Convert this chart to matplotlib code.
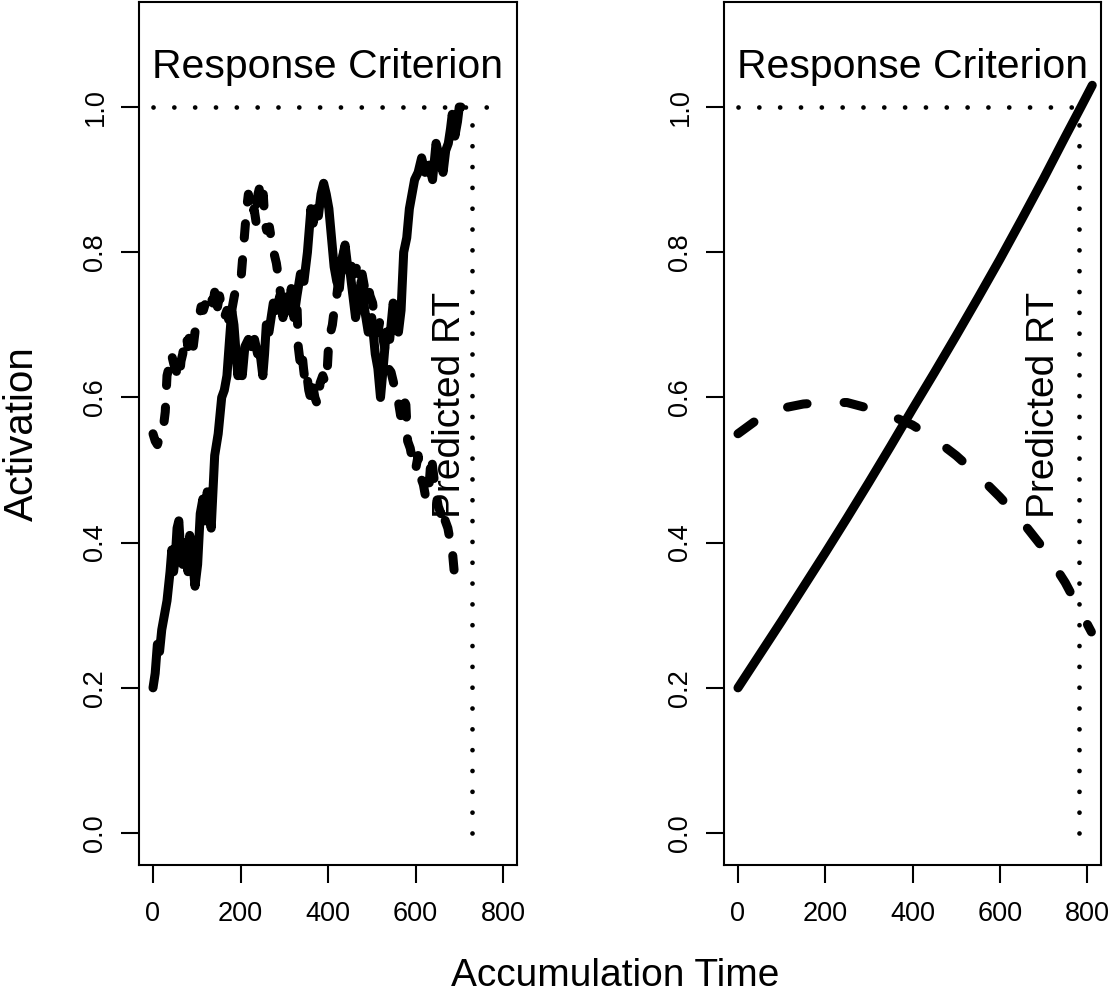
"""
Accumulator model: noisy vs. deterministic evidence accumulation
"""
import numpy as np
from matplotlib import pyplot as plt

plt.rcParams['font.family'] = ['Liberation Sans', 'DejaVu Sans']

# Left panel: noisy accumulators
walk_solid_t = [0, 5, 10, 15, 20, 26, 32, 39, 43, 47, 51, 55, 59, 63, 68, 75, 80, 84, 90,
                96, 102, 108, 114, 119, 124, 128, 133, 137, 141, 149, 157, 163, 169, 175,
                180, 185, 190, 194, 198, 204, 210, 218, 225, 232, 239, 245, 251, 255, 259,
                265, 270, 275, 282, 290, 297, 304, 310, 316, 322, 329, 337, 345, 353, 361,
                366, 372, 378, 384, 390, 396, 402, 408, 414, 420, 426, 432, 439, 445, 451,
                457, 463, 469, 476, 484, 492, 500, 508, 514, 520, 526, 533, 541, 549, 555,
                561, 567, 573, 580, 586, 592, 598, 606, 614, 622, 631, 639, 647, 655, 663,
                669, 675, 680, 684, 690, 696, 700, 704]
walk_solid_v = [0.20, 0.22, 0.26, 0.25, 0.28, 0.30, 0.32, 0.36, 0.39, 0.36, 0.38, 0.42, 0.43,
                0.39, 0.37, 0.40, 0.36, 0.41, 0.38, 0.34, 0.37, 0.44, 0.46, 0.43, 0.47, 0.44,
                0.42, 0.47, 0.52, 0.55, 0.60, 0.61, 0.63, 0.68, 0.72, 0.70, 0.66, 0.63, 0.65,
                0.63, 0.67, 0.68, 0.67, 0.68, 0.66, 0.66, 0.63, 0.66, 0.70, 0.69, 0.71, 0.73,
                0.72, 0.74, 0.71, 0.73, 0.72, 0.75, 0.71, 0.74, 0.77, 0.76, 0.80, 0.86, 0.84,
                0.86, 0.85, 0.88, 0.895, 0.88, 0.86, 0.82, 0.78, 0.76, 0.75, 0.79, 0.81, 0.78,
                0.77, 0.74, 0.71, 0.73, 0.76, 0.72, 0.69, 0.71, 0.66, 0.64, 0.60, 0.64, 0.69,
                0.68, 0.73, 0.71, 0.69, 0.72, 0.80, 0.82, 0.86, 0.88, 0.90, 0.91, 0.93, 0.91,
                0.92, 0.90, 0.95, 0.93, 0.91, 0.94, 0.95, 0.97, 0.99, 0.96, 0.98, 1.0, 1.0]

walk_dash_t = [0, 5, 10, 15, 20, 24, 28, 32, 36, 40, 44, 48, 52, 56, 60, 64, 68, 72, 76, 80,
               84, 88, 92, 96, 100, 105, 110, 115, 120, 126, 132, 137, 141, 146, 152, 157,
               163, 169, 175, 180, 186, 190, 196, 202, 206, 210, 214, 218, 222, 226, 231,
               236, 240, 244, 248, 252, 256, 260, 266, 270, 276, 282, 288, 292, 298, 304,
               310, 316, 322, 328, 332, 336, 340, 344, 348, 352, 356, 360, 364, 370, 376,
               382, 388, 394, 398, 402, 406, 410, 414, 418, 424, 430, 436, 442, 448, 454,
               460, 466, 472, 478, 484, 490, 496, 502, 508, 514, 520, 526, 532, 538, 544,
               550, 556, 562, 566, 570, 574, 578, 582, 588, 594, 600, 606, 612, 618, 624,
               630, 636, 640, 646, 652, 658, 664, 668, 674, 680, 684, 690, 692]
walk_dash_v = [0.55, 0.54, 0.535, 0.545, 0.55, 0.56, 0.58, 0.63, 0.64, 0.66, 0.655, 0.645,
               0.64, 0.63, 0.625, 0.65, 0.66, 0.68, 0.685, 0.67, 0.69, 0.685, 0.67, 0.69,
               0.70, 0.71, 0.725, 0.72, 0.73, 0.725, 0.74, 0.73, 0.745, 0.72, 0.74, 0.725,
               0.71, 0.72, 0.70, 0.72, 0.74, 0.75, 0.76, 0.77, 0.80, 0.83, 0.86, 0.88, 0.87,
               0.85, 0.86, 0.84, 0.88, 0.89, 0.87, 0.88, 0.84, 0.83, 0.835, 0.82, 0.80, 0.785,
               0.76, 0.74, 0.73, 0.75, 0.72, 0.71, 0.73, 0.75, 0.67, 0.65, 0.665, 0.64, 0.62,
               0.63, 0.61, 0.60, 0.62, 0.60, 0.59, 0.62, 0.63, 0.62, 0.635, 0.68, 0.69, 0.70,
               0.72, 0.73, 0.76, 0.78, 0.80, 0.79, 0.80, 0.78, 0.77, 0.78, 0.76, 0.77, 0.75,
               0.76, 0.74, 0.73, 0.70, 0.69, 0.71, 0.68, 0.66, 0.64, 0.635, 0.62, 0.61, 0.59,
               0.575, 0.60, 0.595, 0.59, 0.54, 0.53, 0.51, 0.50, 0.52, 0.49, 0.48, 0.46, 0.47,
               0.52, 0.50, 0.47, 0.45, 0.44, 0.45, 0.43, 0.42, 0.40, 0.39, 0.35, 0.345]

# Right panel: smooth accumulators
smooth_solid_t = [0, 50, 100, 150, 200, 250, 300, 350, 400, 450, 500, 550, 600, 650, 700,
                  750, 786, 812]
smooth_solid_v = [0.200, 0.246, 0.292, 0.339, 0.386, 0.434, 0.483, 0.533, 0.584, 0.634,
                  0.685, 0.737, 0.790, 0.845, 0.901, 0.959, 1.0, 1.03]
smooth_dash_t = [0, 50, 100, 150, 200, 250, 300, 350, 400, 450, 500, 550, 600, 650, 700,
                 750, 810]
smooth_dash_v = [0.55, 0.572, 0.585, 0.591, 0.593, 0.593, 0.585, 0.575, 0.562, 0.543, 0.52,
                 0.493, 0.463, 0.43, 0.392, 0.345, 0.277]

criterion = 1.0
rt_left = 730
rt_right = 781

xticks = [0, 200, 400, 600, 800]
yticks = [0.0, 0.2, 0.4, 0.6, 0.8, 1.0]

W, H = 1108, 997
fig = plt.figure(figsize=(W / 100, H / 100), dpi=100)

lw_main = 6.5
dotted = dict(color='black', linewidth=3.4, dashes=(0.01, 4.4),
              dash_capstyle='round', solid_capstyle='round')


def panel(left_px, right_px, solid_t, solid_v, dash_t, dash_v, dash_pat, rt, rt_label_x):
    ax = fig.add_axes([left_px / W, (H - 865) / H, (right_px - left_px) / W, 862.5 / H])
    ax.plot(solid_t, solid_v, color='black', linewidth=lw_main,
            solid_capstyle='round', solid_joinstyle='round')
    ax.plot(dash_t, dash_v, color='black', linewidth=lw_main, dashes=dash_pat,
            dash_capstyle='round', dash_joinstyle='round')
    ax.plot([0, 800], [criterion, criterion], **dotted)
    ax.plot([rt, rt], [0, criterion], **dotted)
    ax.text(400, 1.055, 'Response Criterion', fontsize=29.5, ha='center', va='center')
    ax.text(rt_label_x, 0.59, 'Predicted RT', fontsize=28, rotation=90,
            ha='center', va='center')
    ax.set_xlim(-32, 832)
    ax.set_ylim(-0.044, 1.144)
    ax.set_xticks(xticks)
    ax.set_xticklabels([str(v) for v in xticks])
    ax.set_yticks(yticks)
    ax.set_yticklabels(['%.1f' % v for v in yticks], rotation=90, va='center')
    ax.tick_params(length=13, width=1.5, labelsize=19.5)
    ax.tick_params(axis='x', pad=13)
    ax.tick_params(axis='y', pad=9)
    for s in ax.spines.values():
        s.set_linewidth(1.5)
    return ax


panel(139, 517, walk_solid_t, walk_solid_v, walk_dash_t, walk_dash_v, (1.6, 2.4),
      rt_left, 680)
panel(724, 1101, smooth_solid_t, smooth_solid_v, smooth_dash_t, smooth_dash_v, (2.2, 4.1),
      rt_right, 701)

fig.text(22 / W, 1 - 434 / H, 'Activation', fontsize=29, rotation=90,
         ha='center', va='center')
fig.text(615 / W, 1 - 976 / H, 'Accumulation Time', fontsize=28,
         ha='center', va='center')

plt.savefig('out.png', dpi=100)
